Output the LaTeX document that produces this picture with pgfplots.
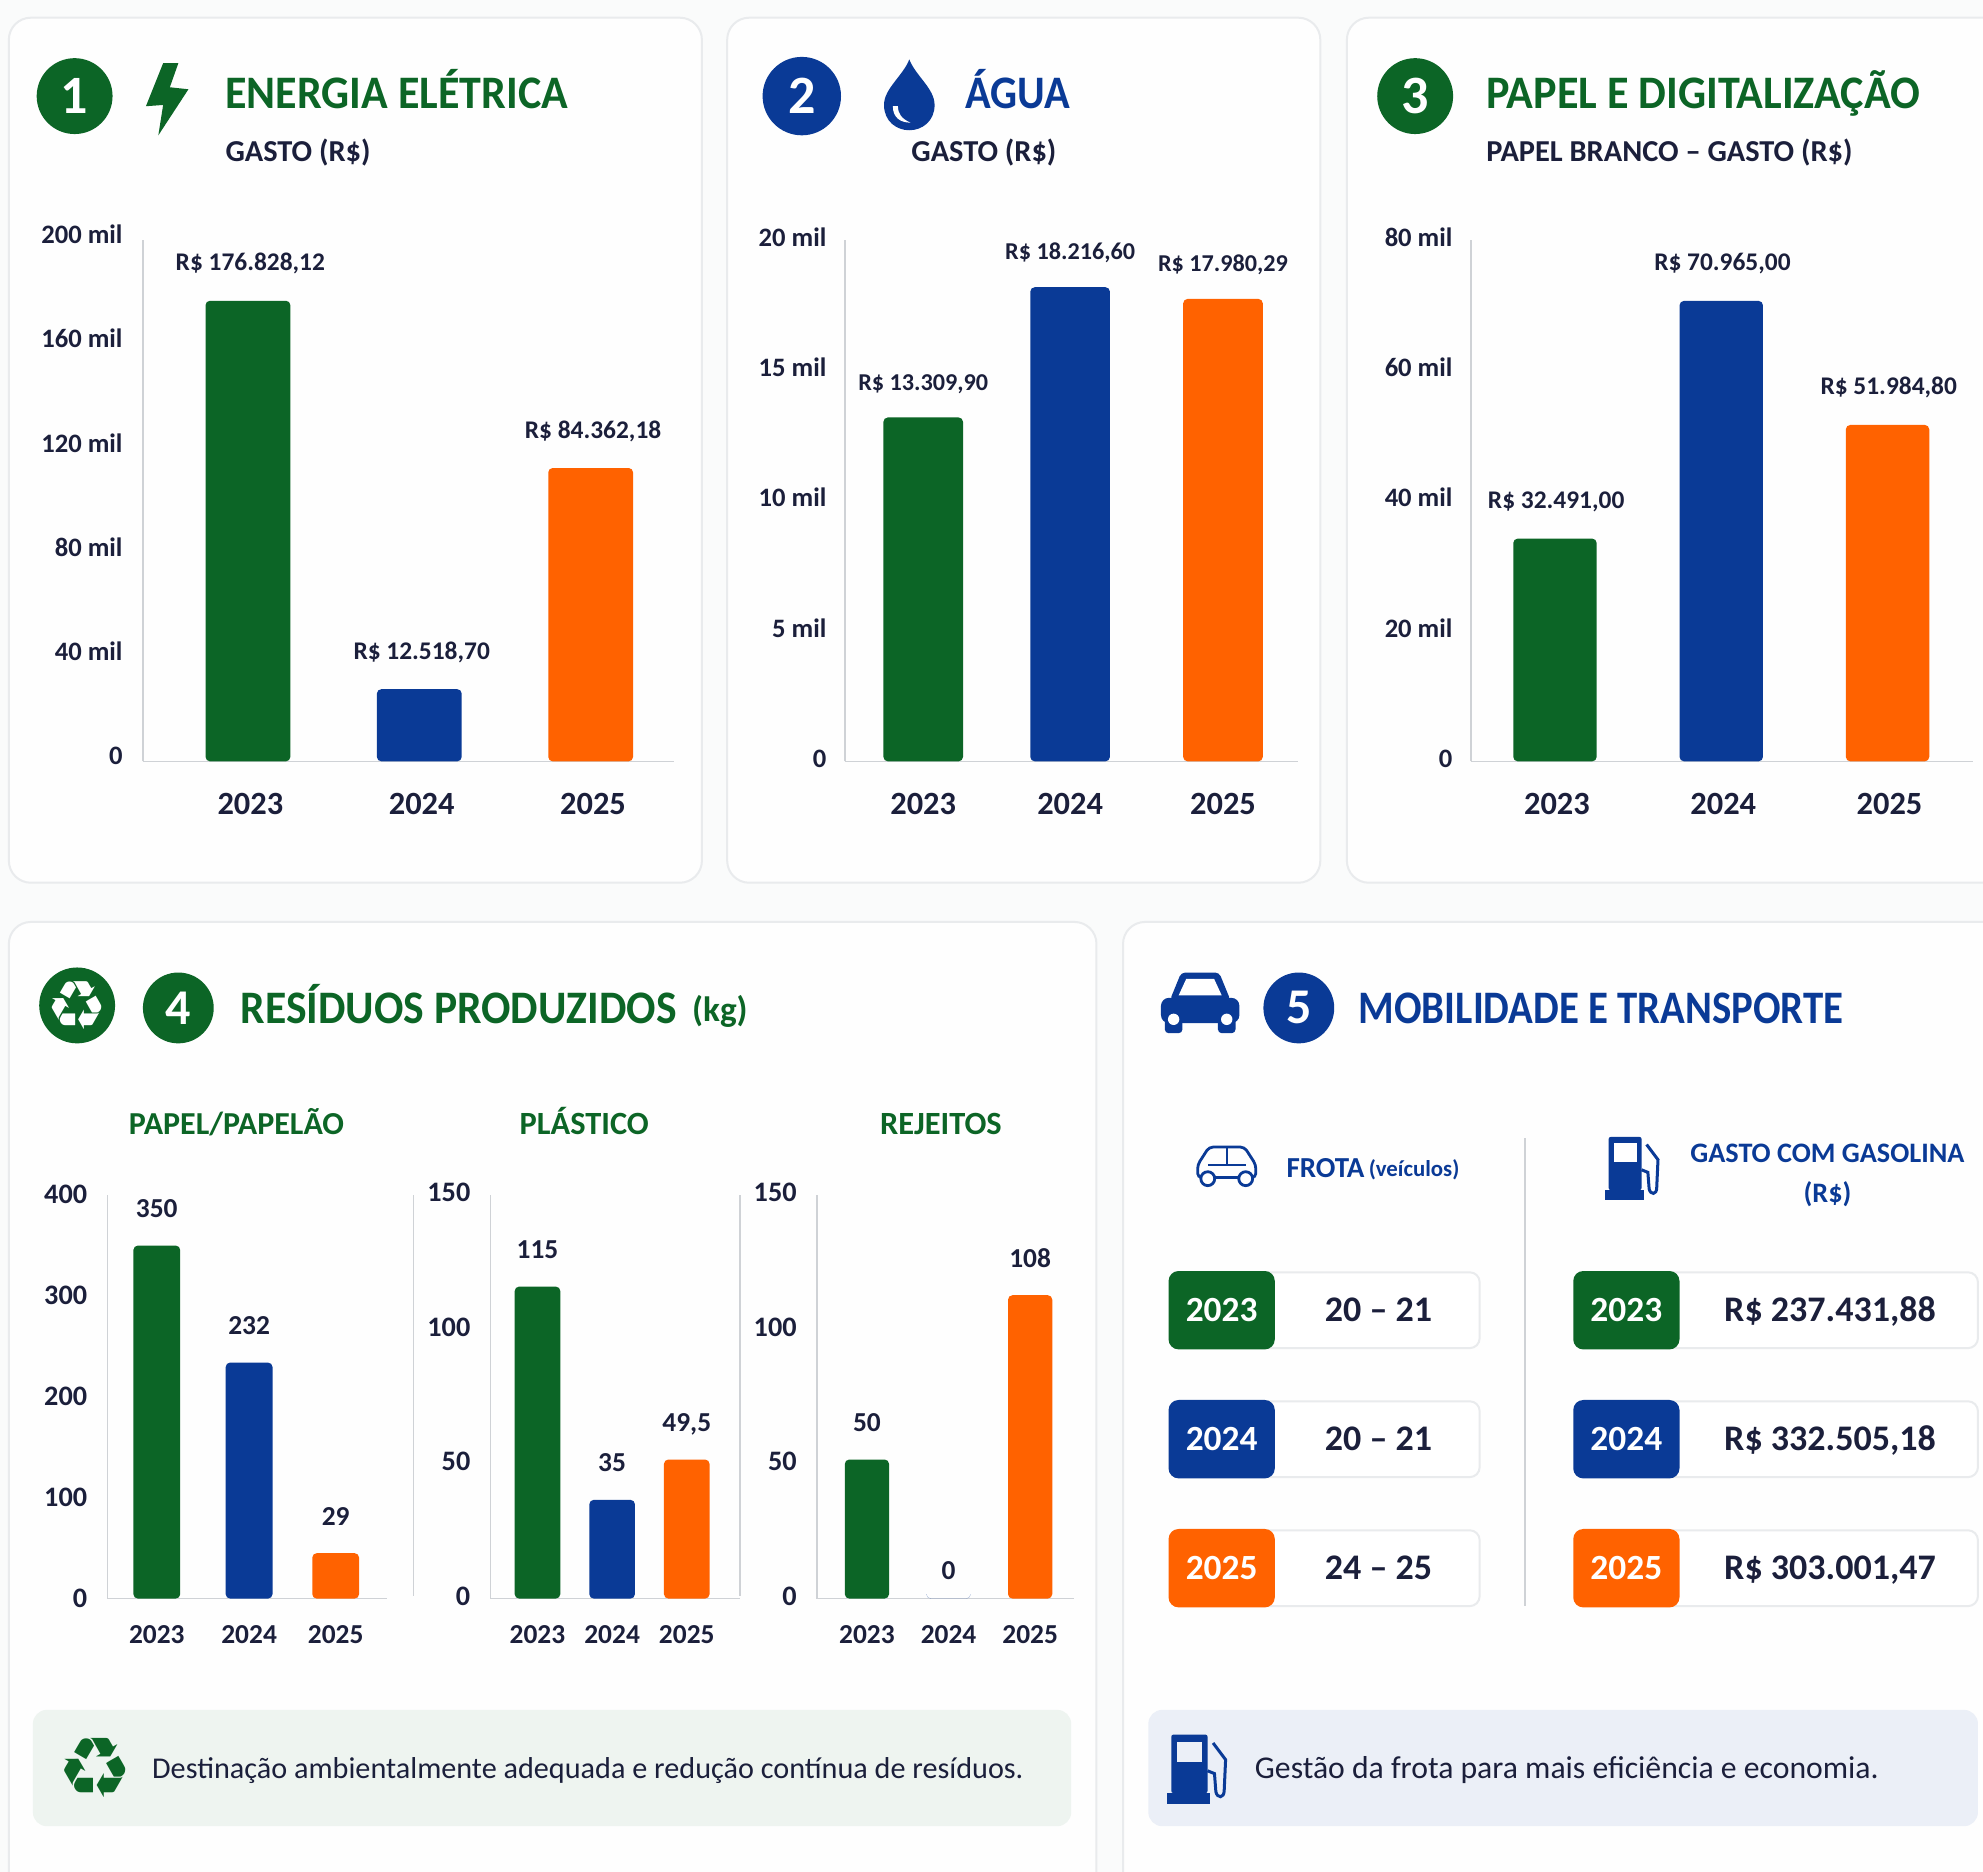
\documentclass[border=0pt]{standalone}
\usepackage{fontspec}
\setmainfont{Carlito}
\newfontfamily\sym{DejaVu Sans}
\usepackage{graphicx}
\usepackage{pgfplots}
\pgfplotsset{compat=1.18}
\definecolor{cG}{HTML}{0C6526}
\definecolor{cB}{HTML}{0A3A96}
\definecolor{cO}{HTML}{FF6200}
\definecolor{ink}{HTML}{1B1F3B}
\definecolor{axisc}{HTML}{CFD2D6}
\definecolor{cardb}{HTML}{E9EBED}
\definecolor{cardf}{HTML}{FEFEFE}
\definecolor{bgc}{HTML}{FAFBFB}
\newcommand\F[1]{\fontsize{#1}{#1}\selectfont\bfseries}
\newcommand\R[1]{\fontsize{#1}{#1}\selectfont}
\newcommand\T[2]{\scalebox{#1}[1]{\F{23.3}#2}}
\pgfplotsset{
  pan/.style={scale only axis, axis lines=left, axis line style={-,draw=axisc,line width=0.8pt},
    tick style={draw=none}, major tick length=0pt, clip=false, ymin=0,
    xtick={0,1,2}, xticklabels={2023,2024,2025},
    point meta=explicit symbolic, nodes near coords,
    tick label style={text=ink,inner sep=0pt},
    yticklabel style={anchor=base east,xshift=-10pt},
    xticklabel style={anchor=base},
    nodes near coords style={anchor=base,text=ink,inner sep=0pt}},
  big/.style={pan,height=260.5pt,
    yticklabel style={font=\F{13.3},yshift=-1.7pt},xticklabel style={font=\F{16.2},yshift=-26.6pt},
    nodes near coords style={font=\F{12.7},yshift=15pt}},
  small/.style={pan,height=201.7pt,ymax=150,ytick={0,50,100,150},
    yticklabel style={font=\F{14.1},yshift=-3.4pt},xticklabel style={font=\F{13.7},yshift=-22.6pt},
    nodes near coords style={font=\F{13.7},yshift=14pt}},
  gb/.style={ybar,bar shift=0pt,fill=cG,draw=none,rounded corners=2.2pt},
  bb/.style={ybar,bar shift=0pt,fill=cB,draw=none,rounded corners=2.2pt},
  ob/.style={ybar,bar shift=0pt,fill=cO,draw=none,rounded corners=2.2pt},
}
\newcommand\card[4]{\draw[rounded corners=11pt,draw=cardb,line width=1pt,fill=cardf] (#1,#2) rectangle (#3,#4);}
\newcommand\pump[4]{%
 \begin{scope}[shift={(#1,#2)},scale=#3]
  \fill[cB,rounded corners=1pt] (-18,-24) rectangle (8,18);
  \fill[#4] (-14,-19) rectangle (4,-4);
  \fill[cB] (-21,18) rectangle (10,26);
  \draw[cB,line width=1.5pt] (8,2) -- (13,4) -- (14,17) .. controls (15,22) and (20,22) .. (20,16) -- (21,-6) -- (12,-18);
 \end{scope}}
\begin{document}
\begin{tikzpicture}[x=0.63233pt,y=-0.63233pt]
\path[use as bounding box,fill=bgc] (0,0) rectangle (1568,1480);
\clip (0,0) rectangle (1568,1480);
% cards
\card{7}{14}{555}{698}
\card{575}{14}{1044}{698}
\card{1065}{14}{1600}{698}
\card{7}{729}{867}{1500}
\card{888}{729}{1600}{1500}
% ---- header 1
\fill[cG] (59,76) circle [radius=30];
\node[text=white] at (59,76) {\F{27}1};
\fill[cG] (129,50)--(141,50)--(134.3,69)--(149,70.6)--(125.2,107)--(129,83)--(115.4,84)--cycle;
\node[anchor=base west,text=cG,inner sep=0pt] at (178,86) {\T{0.944}{ENERGIA ELÉTRICA}};
\node[anchor=base west,text=ink,inner sep=0pt] at (178,128) {\F{15.2}GASTO (R\$)};
% ---- header 2
\fill[cB] (634,76) circle [radius=31];
\node[text=white] at (634,76) {\F{27}2};
\fill[cB] (719,47) .. controls (724,60) and (739,70) .. (739,83) .. controls (739,96) and (729,103) .. (719,103) .. controls (709,103) and (699,96) .. (699,83) .. controls (699,70) and (714,60) .. (719,47) -- cycle;
\fill[white] (706,84) .. controls (706,93) and (712,97) .. (720,97) .. controls (713,94) and (710,90) .. (710,84) -- cycle;
\node[anchor=base west,text=cB,inner sep=0pt] at (763,86) {\T{0.91}{ÁGUA}};
\node[anchor=base,text=ink,inner sep=0pt] at (778,128) {\F{15.2}GASTO (R\$)};
% ---- header 3
\fill[cG] (1119,76) circle [radius=30];
\node[text=white] at (1119,76) {\F{27}3};
\node[anchor=base west,text=cG,inner sep=0pt] at (1175,86) {\T{0.947}{PAPEL E DIGITALIZAÇÃO}};
\node[anchor=base west,text=ink,inner sep=0pt] at (1175,128) {\F{15.2}PAPEL BRANCO – GASTO (R\$)};
% ---- header 4
\fill[cG] (61,795) circle [radius=30];
\node[text=white] at (61,795) {\sym\fontsize{34}{34}\selectfont ♻};
\fill[cG] (141,797) circle [radius=28];
\node[text=white] at (141,797) {\F{25}4};
\node[anchor=base west,text=cG,inner sep=0pt] at (190,809) {\T{0.935}{RESÍDUOS PRODUZIDOS}};
\node[anchor=base west,text=cG,inner sep=0pt] at (547,808) {\F{17.6}(kg)};
\node[anchor=base,text=cG,inner sep=0pt] at (187,897) {\F{16}PAPEL/PAPELÃO};
\node[anchor=base,text=cG,inner sep=0pt] at (462,897) {\F{16.2}PLÁSTICO};
\node[anchor=base,text=cG,inner sep=0pt] at (744,897) {\F{16.2}REJEITOS};
\draw[axisc,line width=0.8pt] (327,945)--(327,1262) (585,945)--(585,1262);
% ---- header 5
\begin{scope}[shift={(949,793)}]
 \fill[cB,rounded corners=2pt] (-24,-2)--(-15,-24)--(15,-24)--(24,-2)--cycle;
 \fill[cB,rounded corners=4pt] (-31,-4) rectangle (31,16);
 \fill[cB,rounded corners=2pt] (-28,12) rectangle (-14,24);
 \fill[cB,rounded corners=2pt] (14,12) rectangle (28,24);
 \fill[white] (-17,-6)--(-11,-19)--(11,-19)--(17,-6)--cycle;
 \fill[white] (-21,13) circle [radius=4.5];
 \fill[white] (21,13) circle [radius=4.5];
\end{scope}
\fill[cB] (1027,797) circle [radius=28];
\node[text=white] at (1027,797) {\F{25}5};
\node[anchor=base west,text=cB,inner sep=0pt] at (1074,809) {\T{0.876}{MOBILIDADE E TRANSPORTE}};
% car outline
\begin{scope}[shift={(970,922)}]
 \draw[cB,line width=1.4pt,rounded corners=2pt] (-23,-1)--(-14,-15)--(14,-15)--(23,-1)--(23,9)--(-23,9)--cycle;
 \draw[cB,line width=1.2pt] (-15,-1)--(15,-1) (0,-15)--(0,-1);
 \draw[cB,line width=1.4pt,fill=white] (-15,10) circle [radius=5.5] (15,10) circle [radius=5.5];
\end{scope}
\node[anchor=west,text=cB,inner sep=0pt] at (1017,924) {\F{14.5}FROTA};
\node[anchor=west,text=cB,inner sep=0pt] at (1082,925) {\F{11.4}(veículos)};
\pump{1290}{923}{1}{white}
\node[text=cB,inner sep=0pt] at (1445,912) {\F{14.1}GASTO COM GASOLINA};
\node[text=cB,inner sep=0pt] at (1445,944) {\F{14.1}(R\$)};
\draw[axisc,line width=1pt] (1206,900)--(1206,1270);
% rows
\foreach \yy/\cc/\tx/\va/\vb in {1036/cG/2023/{20 – 21}/{R\$ 237.431,88}, 1138/cB/2024/{20 – 21}/{R\$ 332.505,18}, 1240/cO/2025/{24 – 25}/{R\$ 303.001,47}}{
 \draw[rounded corners=5pt,draw=cardb,line width=1pt,fill=white] (990,\yy-30) rectangle (1170,\yy+30);
 \draw[rounded corners=5pt,draw=cardb,line width=1pt,fill=white] (1310,\yy-30) rectangle (1564,\yy+30);
 \fill[\cc,rounded corners=5pt] (924,\yy-31) rectangle (1008,\yy+31);
 \fill[\cc,rounded corners=5pt] (1244,\yy-31) rectangle (1328,\yy+31);
 \node[anchor=base,text=white,inner sep=0pt] at (966,\yy+9) {\F{17.7}\tx};
 \node[anchor=base,text=white,inner sep=0pt] at (1286,\yy+9) {\F{17.7}\tx};
 \node[anchor=base,text=ink,inner sep=0pt] at (1090,\yy+9) {\F{18}\va};
 \node[anchor=base,text=ink,inner sep=0pt] at (1447,\yy+9) {\F{18}\vb};
}
% notes
\fill[rounded corners=7pt,fill=cG!7!white] (26,1352) rectangle (847,1444);
\fill[rounded corners=7pt,fill=cB!8!white] (908,1352) rectangle (1564,1444);
\node[text=cG] at (75,1398) {\sym\fontsize{42}{42}\selectfont ♻};
\node[anchor=base west,text=ink,inner sep=0pt] at (120,1406) {\R{15.1}Destinação ambientalmente adequada e redução contínua de resíduos.};
\pump{946}{1398}{1.1}{cB!8!white}
\node[anchor=base west,text=ink,inner sep=0pt] at (992,1406) {\R{15.85}Gestão da frota para mais eficiência e economia.};
% ---- chart 1
\begin{axis}[big,at={(71.45pt,-380.66pt)},anchor=south west,width=265.6pt,xmin=-0.613,xmax=2.487,ymax=200,bar width=42.4pt,
  ytick={0,40,80,120,160,200},yticklabels={0,40 mil,80 mil,120 mil,160 mil,200 mil},
  xticklabel style={xshift=1.2pt},nodes near coords style={xshift=1.2pt}]
\addplot[gb] coordinates {(0,176.8)[R\$ 176.828,12]};
\addplot[bb] coordinates {(1,27.7)[R\$ 12.518,70]};
\addplot[ob] coordinates {(2,112.6)[R\$ 84.362,18]};
\end{axis}
% ---- chart 2
\begin{axis}[big,at={(422.4pt,-380.66pt)},anchor=south west,width=226.4pt,xmin=-0.523,xmax=2.498,ymax=20,bar width=39.8pt,
  ytick={0,5,10,15,20},yticklabels={0,5 mil,10 mil,15 mil,20 mil},xtick={0,0.98,2},
  yticklabel style={xshift=1pt,yshift=-1.3pt},
  nodes near coords style={font=\F{12.1},yshift=-1.3pt}]
\addplot[gb] coordinates {(0,13.2)[R\$ 13.309,90]};
\addplot[bb] coordinates {(0.98,18.2)[R\$ 18.216,60]};
\addplot[ob] coordinates {(2,17.75)[R\$ 17.980,29]};
\end{axis}
% ---- chart 3
\begin{axis}[big,at={(735.4pt,-380.66pt)},anchor=south west,width=251pt,xmin=-0.506,xmax=2.513,ymax=80,bar width=41.7pt,
  ytick={0,20,40,60,80},yticklabels={0,20 mil,40 mil,60 mil,80 mil},
  yticklabel style={xshift=1pt,yshift=-1.3pt},xticklabel style={xshift=1pt},
  nodes near coords style={xshift=0.6pt}]
\addplot[gb] coordinates {(0,34.2)[R\$ 32.491,00]};
\addplot[bb] coordinates {(1,70.7)[R\$ 70.965,00]};
\addplot[ob] coordinates {(2,51.65)[R\$ 51.984,80]};
\end{axis}
% ---- chart 4a
\begin{axis}[small,at={(53.75pt,-799.27pt)},anchor=south west,width=139.7pt,xmin=-0.534,xmax=2.493,ymax=400,bar width=23.4pt,
  ytick={0,100,200,300,400},yticklabels={0,100,200,300,400},xtick={0,1,1.938},
  yticklabel style={yshift=-1pt}]
\addplot[gb] coordinates {(0,350)[350]};
\addplot[bb] coordinates {(1,234)[232]};
\addplot[ob] coordinates {(1.938,45)[29]};
\end{axis}
% ---- chart 4b
\begin{axis}[small,at={(245.34pt,-799.27pt)},anchor=south west,width=124.6pt,xmin=-0.627,xmax=2.712,bar width=22.8pt,
  yticklabels={0,50,100,150}]
\addplot[gb] coordinates {(0,116)[115]};
\addplot[bb] coordinates {(1,36.7)[35]};
\addplot[ob] coordinates {(2,51.7)[49,5]};
\end{axis}
% ---- chart 4c
\begin{axis}[small,at={(408.49pt,-799.27pt)},anchor=south west,width=128.4pt,xmin=-0.612,xmax=2.535,bar width=22.1pt,
  yticklabels={0,50,100,150}]
\addplot[gb] coordinates {(0,51.7)[50]};
\addplot[bb,nodes near coords style={yshift=-4.3pt}] coordinates {(1,0)[0]};
\addplot[ob] coordinates {(2,112.8)[108]};
\end{axis}
\end{tikzpicture}
\end{document}
